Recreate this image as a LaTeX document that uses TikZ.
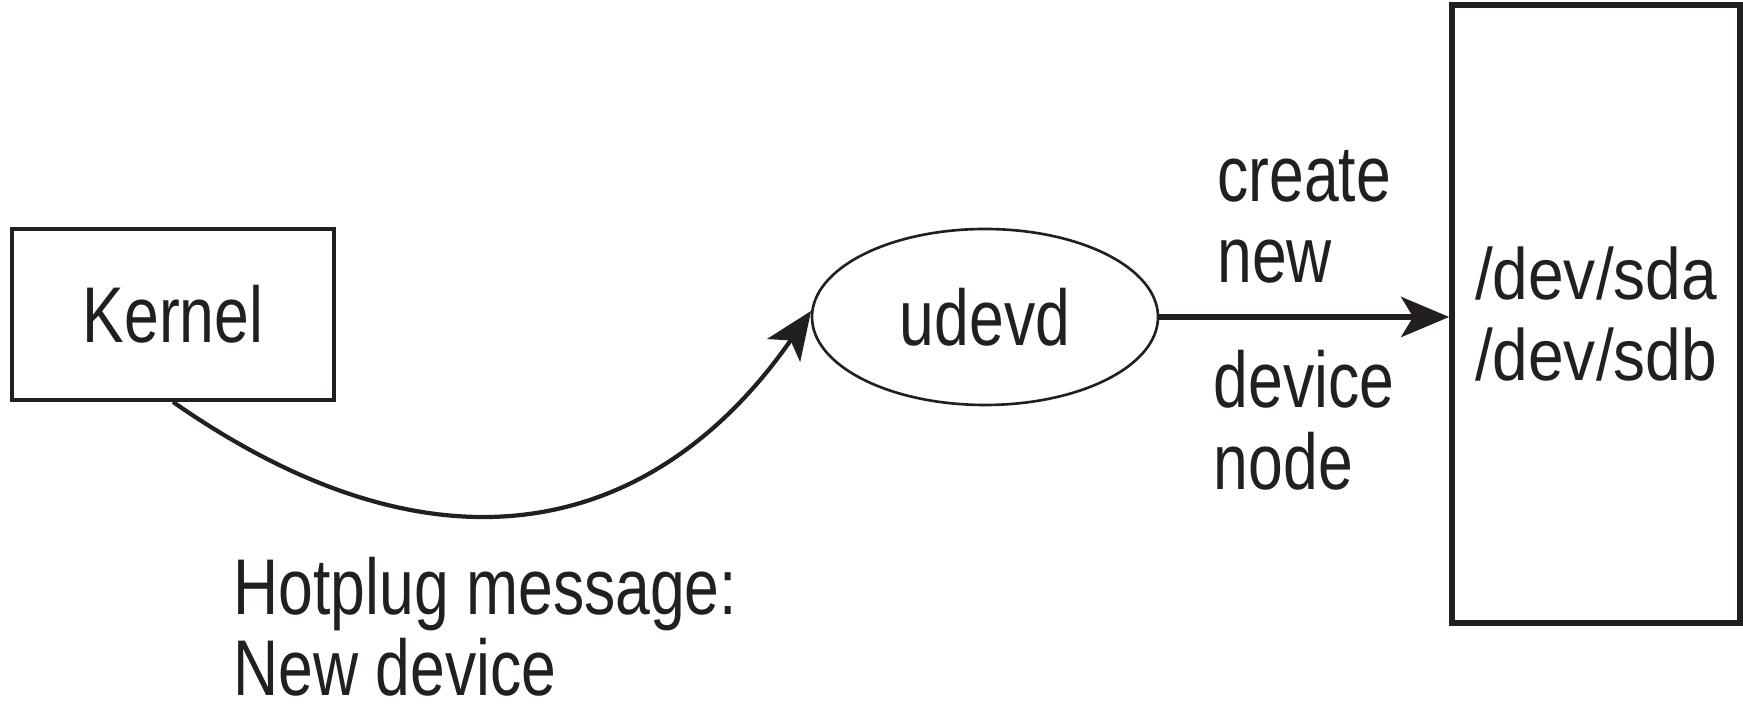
\documentclass[tikz,border=0pt]{standalone}
\usepackage{fontspec}
\setmainfont{Liberation Sans}
\newfontfamily\narrowfont[FakeStretch=0.79]{Liberation Sans}
\newfontfamily\devfont[FakeStretch=0.88]{Liberation Sans}
\usetikzlibrary{arrows.meta,shapes.geometric}
\definecolor{ink}{HTML}{231F20}
\tikzset{
  box/.style={draw=ink, line width=1.1pt, rectangle, inner sep=0pt},
  blob/.style={draw=ink, line width=0.75pt, ellipse, inner sep=0pt,
    minimum width=3.46cm, minimum height=1.76cm},
  lbl/.style={text=ink, font=\narrowfont\fontsize{22.5}{23.2}\selectfont,
    inner sep=0pt, align=left},
  devlbl/.style={text=ink, font=\devfont\fontsize{20.7}{22.8}\selectfont,
    inner sep=0pt, align=left},
  tip/.style={-{Stealth[length=4.8mm,width=4mm,inset=1.2mm]}, draw=ink}
}
\begin{document}
\begin{tikzpicture}
        \useasboundingbox (0,0) rectangle (17.43,7.05);
        \node[box, lbl, minimum width=3.22cm, minimum height=1.71cm] at (1.73,3.905) (kernel) {Kernel};
        \node[blob, lbl] at (9.85,3.88) (udevd) {udevd};
        \node[box, devlbl, line width=1.6pt, minimum width=2.88cm, minimum height=6.18cm] at (15.96,3.91) (dev) {/dev/sda\\/dev/sdb};
        \node[lbl, anchor=base west] at (2.33,0.09) (hotplug) {Hotplug message:\\New device};
        \draw[tip, line width=1.2pt] (kernel.south) .. controls (4.51,1.09) and (6.63,1.81) .. (udevd.178);
        \draw[tip, line width=1.9pt] (udevd.east) -- (udevd.east -| dev.west)
          node[lbl, midway, above=8.5pt] (create) {create\\new}
          node[lbl, midway, below=8.5pt] (device) {device\\node};
      \end{tikzpicture}
\end{document}
